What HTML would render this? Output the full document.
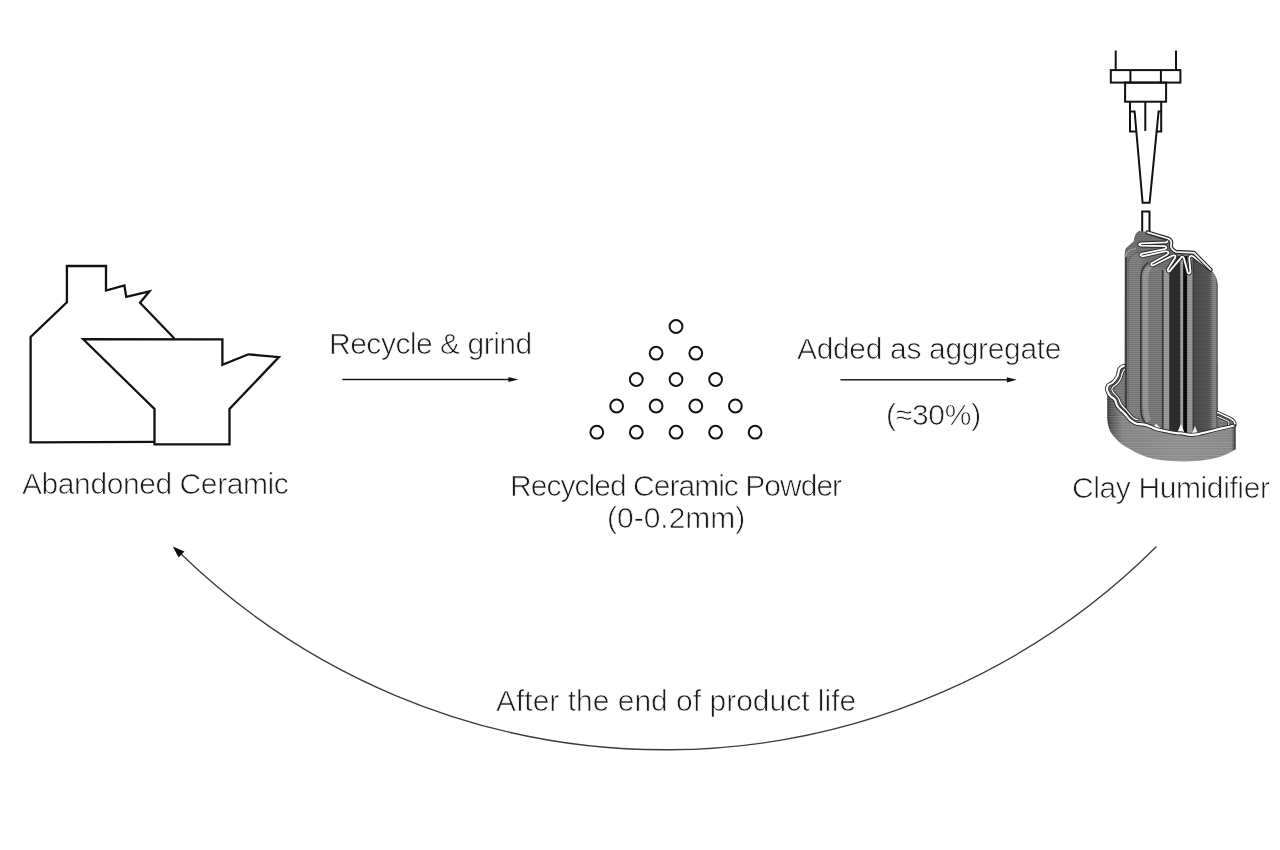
<!DOCTYPE html>
<html><head><meta charset="utf-8">
<style>
html,body{margin:0;padding:0;background:#fff;}
body{width:1280px;height:850px;position:relative;overflow:hidden;font-family:"Liberation Sans",sans-serif;color:#1a1a1a;}
.t{position:absolute;white-space:nowrap;font-size:30.0px;line-height:1;-webkit-text-stroke:0.7px #fff;will-change:transform;}
svg{position:absolute;left:0;top:0;}
</style></head>
<body>
<svg width="1280" height="850" viewBox="0 0 1280 850">
 <g fill="none" stroke="#111" stroke-width="2.3" stroke-linejoin="miter" stroke-miterlimit="6">
  <polyline points="174.4,338.5 140,302.75 149.4,291.5 126.25,296.9 124.4,285.4 106,290.6 106,266 66.9,266 66.9,302.25 30.6,337 30.6,442.4 154.5,441.8"/>
  <polygon points="83.2,339.2 222.4,339.3 222.4,364.8 248.4,354.3 278.9,357.1 229.5,409 229.5,444.4 154.5,444.4 154.5,409"/>
 </g>
 <g fill="#111" stroke="none">
  <rect x="342.3" y="378.8" width="167" height="1.4"/>
  <polygon points="508.4,377 518.3,379.5 508.4,382.1"/>
  <rect x="840.5" y="379.1" width="167" height="1.4"/>
  <polygon points="1006.8,377.2 1016.7,379.8 1006.8,382.4"/>
 </g>
 <g fill="none" stroke="#111" stroke-width="2">
  <circle cx="676" cy="326.5" r="6.4"/>
  <circle cx="656.1" cy="353.2" r="6.4"/><circle cx="695.8" cy="353.2" r="6.4"/>
  <circle cx="636.3" cy="379.5" r="6.4"/><circle cx="676" cy="379.5" r="6.4"/><circle cx="715.6" cy="379.5" r="6.4"/>
  <circle cx="616.6" cy="406" r="6.4"/><circle cx="656.1" cy="406" r="6.4"/><circle cx="695.8" cy="406" r="6.4"/><circle cx="735.4" cy="406" r="6.4"/>
  <circle cx="596.8" cy="432.2" r="6.4"/><circle cx="636.3" cy="432.2" r="6.4"/><circle cx="676" cy="432.2" r="6.4"/><circle cx="715.6" cy="432.2" r="6.4"/><circle cx="755.1" cy="432.2" r="6.4"/>
 </g>

 <!-- nozzle -->
 <g fill="none" stroke="#111" stroke-width="2" stroke-linejoin="miter">
  <line x1="1115.7" y1="50.5" x2="1115.7" y2="70"/>
  <line x1="1176" y1="50.5" x2="1176" y2="70"/>
  <rect x="1110.8" y="70.1" width="69.6" height="12.5"/>
  <line x1="1130.4" y1="70.1" x2="1130.4" y2="82.6"/>
  <line x1="1160.9" y1="70.1" x2="1160.9" y2="82.6"/>
  <rect x="1125.1" y="82.6" width="41" height="19.1"/>
  <polyline points="1130,101.7 1130,131.5 1136.3,131.5"/>
  <polyline points="1161.2,101.7 1161.2,131.5 1155.9,131.5"/>
  <polyline points="1130,111.5 1134.6,111.5 1142.6,202.8 1149.6,202.8 1158.6,111.5 1161.2,111.5"/>
  <line x1="1145.3" y1="101.7" x2="1145.3" y2="130.9"/>
  <polyline points="1142.2,234 1142.2,211.5 1149.5,211.5 1149.5,234"/>
 </g>

 <defs>
  <pattern id="stri" width="6" height="2" patternUnits="userSpaceOnUse">
   <rect width="6" height="0.9" fill="#000" opacity="0.10"/>
  </pattern>
  <pattern id="stri2" width="7" height="2.6" patternUnits="userSpaceOnUse">
   <rect width="7" height="0.8" fill="#fff" opacity="0.16"/>
  </pattern>
  <clipPath id="bodyclip"><path d="M1139.1,231.1 L1147.5,232.3 L1168,238.5 Q1171.5,240 1171.3,243 L1170.8,246 Q1171.5,250 1176,251.8 L1194,252.8 L1210.6,269.7 Q1217.4,276 1217.6,285 L1217.6,440 L1124.6,440 L1124.8,254 Q1125.2,248.5 1127.5,247 L1133.8,241.5 Q1134.5,233.5 1139.1,231.1 Z"/></clipPath>
  <linearGradient id="wallg" x1="0" x2="1" y1="0" y2="0">
   <stop offset="0" stop-color="#333"/>
   <stop offset="0.03" stop-color="#555"/>
   <stop offset="0.12" stop-color="#838383"/>
   <stop offset="0.6" stop-color="#8c8c8c"/>
   <stop offset="0.97" stop-color="#868686"/>
   <stop offset="1" stop-color="#444"/>
  </linearGradient>
  <linearGradient id="rcol" x1="0" x2="1" y1="0" y2="0">
   <stop offset="0" stop-color="#333"/>
   <stop offset="0.08" stop-color="#4e4e4e"/>
   <stop offset="0.6" stop-color="#575757"/>
   <stop offset="0.74" stop-color="#666"/>
   <stop offset="0.78" stop-color="#858585"/>
   <stop offset="0.94" stop-color="#8c8c8c"/>
   <stop offset="0.97" stop-color="#3a3a3a"/>
   <stop offset="1" stop-color="#333"/>
  </linearGradient>
 </defs>
 <!-- tray interior -->
 <path d="M1123.8,365.8 L1119.1,369.7 L1117.5,376.1 L1112.7,382.5 L1107.9,385.6 L1107.2,390.4 L1111.1,396.8 L1115.1,400 L1117.5,406.3 L1123.8,412.7 L1131,420.6 L1136.6,423.8 L1147.7,425.4 L1157.2,429.4 L1168.4,431.7 L1179.5,433.3 L1190.6,434.9 L1198.6,434.1 L1208.1,431.7 L1220.8,428.6 L1234.3,425.4 L1235.1,423.8 L1232,419 L1217.6,412.7 L1217.6,364 Z" fill="#727272"/>
 <path d="M1123.8,365.8 L1119.1,369.7 L1117.5,376.1 L1112.7,382.5 L1107.9,385.6 L1107.2,390.4 L1111.1,396.8 L1115.1,400 L1117.5,406.3 L1123.8,412.7 L1131,420.6 L1136.6,423.8 L1147.7,425.4 L1157.2,429.4 L1168.4,431.7 L1179.5,433.3 L1190.6,434.9 L1198.6,434.1 L1208.1,431.7 L1220.8,428.6 L1234.3,425.4 L1235.1,423.8 L1232,419 L1217.6,412.7 L1217.6,364 Z" fill="url(#stri2)"/>
 <!-- body -->
 <g clip-path="url(#bodyclip)">
  <rect x="1124" y="230" width="95" height="210" fill="#7a7a7a"/>
  <!-- left column -->
  <rect x="1124.6" y="240" width="2.8" height="200" fill="#444"/>
  <rect x="1127.2" y="240" width="14" height="200" fill="#838383"/>
  <!-- second column -->
  <path d="M1141.3,275 Q1142,264 1152,260 L1163.7,256 L1163.7,440 L1141.3,440 Z" fill="#7c7c7c"/>
  <path d="M1142.6,276 Q1143.5,268 1151,264 L1153,267 Q1148.5,270 1148.3,278 L1148.3,405 Q1148.3,414 1151,420 L1146,423 Q1142.8,414 1142.8,404 Z" fill="#a0a0a0" opacity="0.8"/>
  <path d="M1140.8,412 L1140.8,276 Q1141.5,266 1150,261.5" fill="none" stroke="#3a3a3a" stroke-width="1.5"/>
  <path d="M1140.8,410 Q1141,418 1146,424" fill="none" stroke="#3a3a3a" stroke-width="1.5"/>
  <path d="M1128.3,440 L1128.3,262 Q1129,252 1137,248" fill="none" stroke="#666" stroke-width="0.6"/>
  <rect x="1161.9" y="270" width="1.8" height="170" fill="#3a3a3a"/>
  <!-- fins -->
  <rect x="1163.7" y="269" width="5.6" height="171" fill="#9e9e9e"/>
  <rect x="1169.3" y="256" width="11.1" height="184" fill="#2e2e2e"/>
  <rect x="1180.4" y="258" width="2.8" height="182" fill="#a5a5a5"/>
  <rect x="1183.2" y="256" width="4" height="184" fill="#0a0a0a"/>
  <rect x="1187.2" y="272" width="5.5" height="168" fill="#9a9a9a"/>
  <!-- right column -->
  <rect x="1192.7" y="250" width="25" height="190" fill="url(#rcol)"/>
  <!-- roof -->
  <path d="M1124,230 L1175,230 L1175,252 L1168.3,271.5 L1163,268 L1152,266 Q1146,262 1143,257 L1136,252 Q1130,251 1126,256 L1124,256 Z" fill="#747474"/>
  <path d="M1125.5,257 Q1127,249.5 1136,248.5" fill="none" stroke="#a0a0a0" stroke-width="1.6"/>
  <path d="M1128.5,262 Q1130,254 1139,252" fill="none" stroke="#5a5a5a" stroke-width="0.9"/>
  <rect x="1124" y="230" width="95" height="210" fill="url(#stri)"/>
 </g>
 <!-- top white lines -->
 <g fill="none" stroke-linejoin="round" stroke-linecap="round">
  <path id="zz" d="M1147.5,232.5 L1166,238.6 Q1170,240.5 1166,242.4 L1141,243.3 Q1137,244 1141,245.6 L1164.5,246.2 Q1168.5,247.6 1164.5,249.2 L1142,253.6 Q1138.5,255.3 1142.5,256.3 L1166,251.2 Q1170.5,252.2 1167,254.8 L1151.5,263.3 Q1150.5,266.5 1154,265 L1172.5,255.6 Q1176.5,254.5 1175,258 L1167.6,269.5 Q1168.5,273.5 1170.5,270.2 L1180.6,258.4 Q1182.2,254.8 1184,258.4 L1187.5,271.8 Q1189,275.5 1190.5,271.8 L1189.2,258.2 Q1190,254.8 1193,256.2 L1210.6,269.7" stroke="#262626" stroke-width="3.6"/>
  <path d="M1147.5,232.5 L1166,238.6 Q1170,240.5 1166,242.4 L1141,243.3 Q1137,244 1141,245.6 L1164.5,246.2 Q1168.5,247.6 1164.5,249.2 L1142,253.6 Q1138.5,255.3 1142.5,256.3 L1166,251.2 Q1170.5,252.2 1167,254.8 L1151.5,263.3 Q1150.5,266.5 1154,265 L1172.5,255.6 Q1176.5,254.5 1175,258 L1167.6,269.5 Q1168.5,273.5 1170.5,270.2 L1180.6,258.4 Q1182.2,254.8 1184,258.4 L1187.5,271.8 Q1189,275.5 1190.5,271.8 L1189.2,258.2 Q1190,254.8 1193,256.2 L1210.6,269.7" stroke="#fff" stroke-width="1.8"/>
  <path d="M1147.5,232.3 L1168,238.5 Q1171.5,240 1171.3,243 L1170.8,246 Q1171.5,250 1176,251.8 L1194,252.8 L1210.6,269.7" stroke="#262626" stroke-width="4"/>
  <path d="M1147.5,232.3 L1168,238.5 Q1171.5,240 1171.3,243 L1170.8,246 Q1171.5,250 1176,251.8 L1194,252.8 L1210.6,269.7" stroke="#f2f2f2" stroke-width="1.8"/>
 </g>
 <!-- white gaps near bottom -->
 <polygon points="1177.5,432 1181,424 1184.5,433" fill="#fff"/>
 <polygon points="1153,428 1156,423.5 1162,430" fill="#f0f0f0"/>
 <polygon points="1192,433 1195,426 1198,434" fill="#f0f0f0"/>
 <!-- front wall -->
 <path d="M1107.2,390.4 L1107.2,419 C1108,427 1110,432 1112.7,434.9 C1117,440 1121,444 1127,447.6 C1135,452 1140,455 1147.7,457.2 C1155,459.5 1162,460.5 1171.5,461 C1180,461.5 1188,461.5 1195.4,461 C1204,460.5 1212,459 1219.2,457 C1226,455 1231,452 1235.1,449.5 L1235.1,423.8 L1234.3,425.4 L1220.8,428.6 L1208.1,431.7 L1198.6,434.1 L1190.6,434.9 L1179.5,433.3 L1168.4,431.7 L1157.2,429.4 L1147.7,425.4 L1136.6,423.8 L1131,420.6 L1123.8,412.7 L1117.5,406.3 L1115.1,400 L1111.1,396.8 Z" fill="url(#wallg)"/>
 <path d="M1107.2,390.4 L1107.2,419 C1108,427 1110,432 1112.7,434.9 C1117,440 1121,444 1127,447.6 C1135,452 1140,455 1147.7,457.2 C1155,459.5 1162,460.5 1171.5,461 C1180,461.5 1188,461.5 1195.4,461 C1204,460.5 1212,459 1219.2,457 C1226,455 1231,452 1235.1,449.5 L1235.1,423.8 L1234.3,425.4 L1220.8,428.6 L1208.1,431.7 L1198.6,434.1 L1190.6,434.9 L1179.5,433.3 L1168.4,431.7 L1157.2,429.4 L1147.7,425.4 L1136.6,423.8 L1131,420.6 L1123.8,412.7 L1117.5,406.3 L1115.1,400 L1111.1,396.8 Z" fill="url(#stri2)"/>
 <!-- rims -->
 <g fill="none" stroke-linejoin="round" stroke-linecap="round">
  <path id="rimo" d="M1123.8,365.8 C1121,367 1119.5,368 1119.1,369.7 C1118.5,372 1118.5,374 1117.5,376.1 C1116,379 1114.5,381 1112.7,382.5 C1110.5,384 1108.5,384.5 1107.9,385.6 C1107,387 1106.8,389 1107.2,390.4 C1108,393 1109.5,395.5 1111.1,396.8 C1113,398 1114.3,398.5 1115.1,400 C1116,402 1116.3,404.5 1117.5,406.3 C1119,409 1121.5,410.5 1123.8,412.7 C1126.5,415 1128.5,419 1131,420.6 C1133,422 1134.5,423.4 1136.6,423.8 C1140,424.3 1144,424.2 1147.7,425.4 C1151,426.5 1154,428.7 1157.2,429.4 C1161,430.3 1165,431 1168.4,431.7 C1172,432.4 1176,433.6 1179.5,433.3 C1183,433 1187,435 1190.6,434.9 C1194,434.8 1196,434.6 1198.6,434.1 C1201.5,433.5 1205,432.4 1208.1,431.7 C1212,430.8 1216.5,429.5 1220.8,428.6 C1225,427.7 1230,426.5 1234.3,425.4" stroke="#2a2a2a" stroke-width="4"/>
  <path d="M1123.8,365.8 C1121,367 1119.5,368 1119.1,369.7 C1118.5,372 1118.5,374 1117.5,376.1 C1116,379 1114.5,381 1112.7,382.5 C1110.5,384 1108.5,384.5 1107.9,385.6 C1107,387 1106.8,389 1107.2,390.4 C1108,393 1109.5,395.5 1111.1,396.8 C1113,398 1114.3,398.5 1115.1,400 C1116,402 1116.3,404.5 1117.5,406.3 C1119,409 1121.5,410.5 1123.8,412.7 C1126.5,415 1128.5,419 1131,420.6 C1133,422 1134.5,423.4 1136.6,423.8 C1140,424.3 1144,424.2 1147.7,425.4 C1151,426.5 1154,428.7 1157.2,429.4 C1161,430.3 1165,431 1168.4,431.7 C1172,432.4 1176,433.6 1179.5,433.3 C1183,433 1187,435 1190.6,434.9 C1194,434.8 1196,434.6 1198.6,434.1 C1201.5,433.5 1205,432.4 1208.1,431.7 C1212,430.8 1216.5,429.5 1220.8,428.6 C1225,427.7 1230,426.5 1234.3,425.4" stroke="#fff" stroke-width="2.1"/>
  <!-- inner rim line -->
  <path d="M1124.6,369.5 C1122.5,371 1122,374 1121.3,377 C1120,381 1117.5,384 1113,387 C1111.5,388 1111.5,390 1113,392 C1115.5,395 1118,396.5 1119,399.5 C1120,403 1121.5,406 1125,408.8 C1128.5,412 1130.5,416 1133.5,418 C1135,419.2 1136.5,419.5 1138,419.6" stroke="#2a2a2a" stroke-width="3"/>
  <path d="M1124.6,369.5 C1122.5,371 1122,374 1121.3,377 C1120,381 1117.5,384 1113,387 C1111.5,388 1111.5,390 1113,392 C1115.5,395 1118,396.5 1119,399.5 C1120,403 1121.5,406 1125,408.8 C1128.5,412 1130.5,416 1133.5,418 C1135,419.2 1136.5,419.5 1138,419.6" stroke="#f4f4f4" stroke-width="1.3"/>
  <path d="M1217.6,412.5 L1229.5,418 Q1235,420.5 1235,424.5" stroke="#2a2a2a" stroke-width="3.4"/>
  <path d="M1217.6,412.5 L1229.5,418 Q1235,420.5 1235,424.5" stroke="#fafafa" stroke-width="1.6"/>
  <path d="M1217.6,416.5 L1227,420.5 Q1230,422 1228.5,424.5" stroke="#2a2a2a" stroke-width="2.8"/>
  <path d="M1217.6,416.5 L1227,420.5 Q1230,422 1228.5,424.5" stroke="#eee" stroke-width="1.2"/>
 </g>
 <path d="M1235.1,424 L1235.1,449.5" stroke="#3a3a3a" stroke-width="1.2"/>
 <!-- return arc -->
 <path d="M1156.5,546.5 A696,696 0 0 1 180,553" fill="none" stroke="#3a3a3a" stroke-width="1.3"/>
 <polygon points="172.9,546.5 184.5,551.5 178.5,557.5" fill="#111"/>
</svg>
<div class="t" style="left:21.6px;top:468.6px;letter-spacing:-0.42px;">Abandoned Ceramic</div>
<div class="t" style="left:329.3px;top:328.8px;letter-spacing:-0.49px;">Recycle &amp; grind</div>
<div class="t" style="left:510.29999999999995px;top:470.8px;letter-spacing:-0.97px;">Recycled Ceramic Powder</div>
<div class="t" style="left:607.4px;top:503.2px;letter-spacing:0px;">(0-0.2mm)</div>
<div class="t" style="left:796.7px;top:333.5px;letter-spacing:-0.34px;">Added as aggregate</div>
<div class="t" style="left:886.3px;top:400.3px;letter-spacing:-0.26px;">(≈30%)</div>
<div class="t" style="left:1071.75px;top:472.5px;letter-spacing:-0.39px;">Clay Humidifier</div>
<div class="t" style="left:495.8px;top:685.7px;letter-spacing:0.0px;">After the end of product life</div>
</body></html>
